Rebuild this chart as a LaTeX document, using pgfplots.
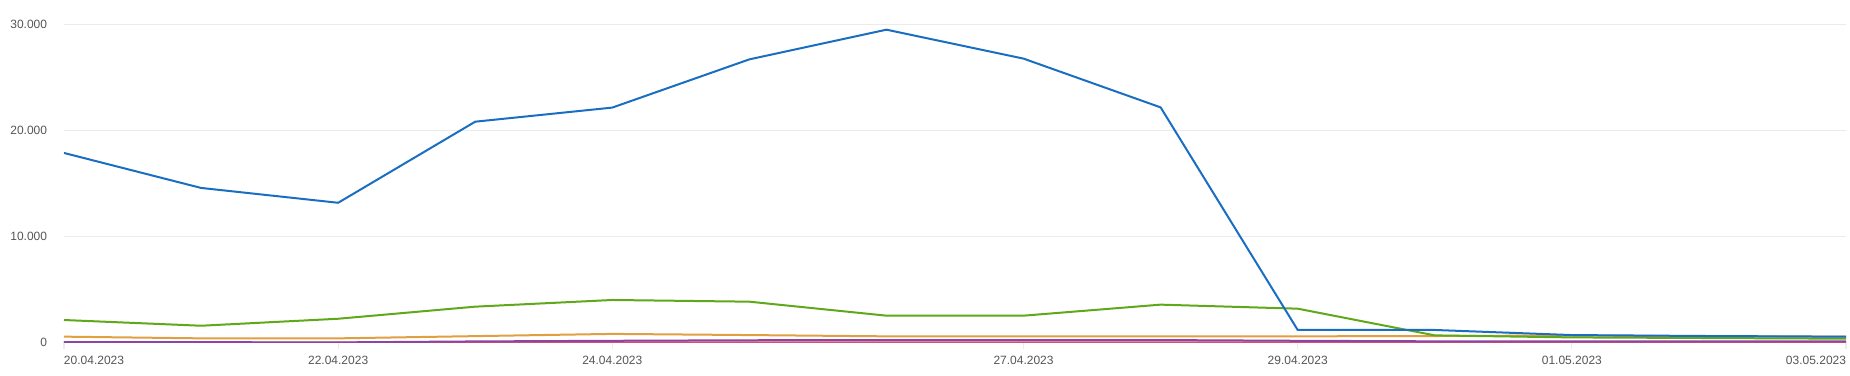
\documentclass[border=0pt]{standalone}
\usepackage{fontspec}
\setmainfont{Liberation Sans}
\usepackage{pgfplots}
\pgfplotsset{compat=1.18}
\definecolor{cblue}{HTML}{1A6EC1}
\definecolor{cgreen}{HTML}{5EA81A}
\definecolor{corange}{HTML}{E0A040}
\definecolor{cpurple}{HTML}{8E44A0}
\definecolor{cpink}{HTML}{D4506E}
\definecolor{cgrid}{HTML}{EBEBEB}
\definecolor{ctext}{HTML}{555555}
\begin{document}
\begin{tikzpicture}
\useasboundingbox (-32pt,-16.15pt) rectangle (893pt,171.35pt);
\begin{axis}[
  at={(0,0)}, anchor=south west,
  scale only axis, width=891pt, height=159pt,
  xmin=0, xmax=13, ymin=0, ymax=30000,
  axis line style={draw=none},
  scaled y ticks=false,
  xtick pos=bottom, ytick pos=left,
  xtick={0,2,4,7,9,11,13},
  xticklabels={\makebox[0pt][l]{20.04.2023},22.04.2023,24.04.2023,27.04.2023,29.04.2023,01.05.2023,\makebox[0pt][r]{03.05.2023}},
  ytick={0,10000,20000,30000},
  yticklabels={0,10.000,20.000,30.000},
  ymajorgrids, grid style={color=cgrid, line width=0.6pt},
  tick align=outside, major tick length=3pt,
  xtick style={color=cgrid, line width=0.6pt},
  ytick style={draw=none},
  ticklabel style={font=\fontsize{6}{7}\selectfont, text=ctext},
  yticklabel style={inner sep=0pt, xshift=-5.25pt},
  xticklabel style={inner sep=0pt, yshift=-3.4pt},
  every axis plot/.append style={line width=1pt, line join=round, mark=none},
]
\addplot[cpink] coordinates {(0,0)(1,0)(2,0)(3,20)(4,40)(5,40)(6,40)(7,40)(8,40)(9,40)(10,30)(11,20)(12,20)(13,20)};
\addplot[cpurple] coordinates {(0,50)(1,50)(2,30)(3,120)(4,180)(5,230)(6,250)(7,250)(8,250)(9,180)(10,130)(11,130)(12,130)(13,130)};
\addplot[corange] coordinates {(0,570)(1,410)(2,410)(3,620)(4,830)(5,720)(6,600)(7,600)(8,600)(9,600)(10,630)(11,680)(12,600)(13,570)};
\addplot[cgreen] coordinates {(0,2140)(1,1600)(2,2260)(3,3400)(4,4030)(5,3870)(6,2550)(7,2550)(8,3590)(9,3210)(10,690)(11,500)(12,440)(13,380)};
\addplot[cblue] coordinates {(0,17900)(1,14600)(2,13200)(3,20850)(4,22180)(5,26730)(6,29530)(7,26800)(8,22200)(9,1200)(10,1200)(11,720)(12,630)(13,570)};
\end{axis}
\end{tikzpicture}
\end{document}
